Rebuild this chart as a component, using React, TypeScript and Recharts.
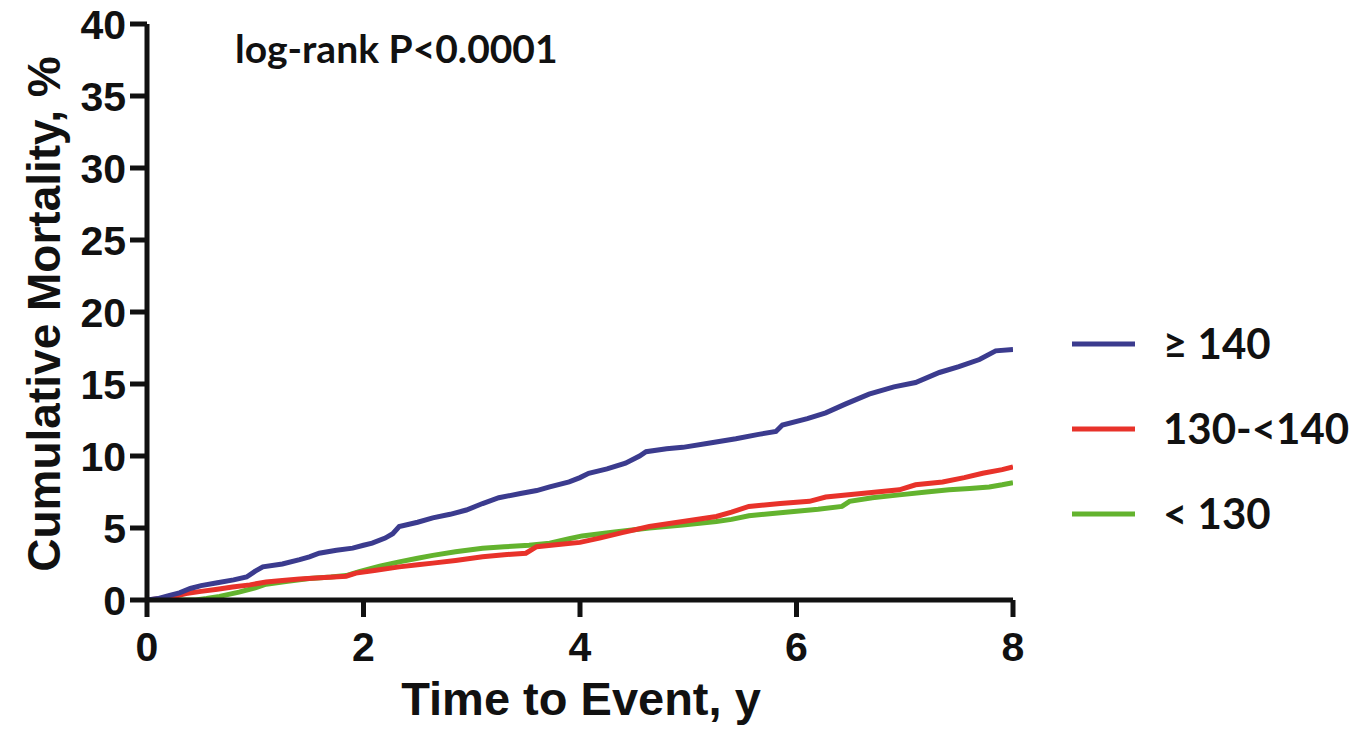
import React from "react";
import { LineChart, Line, XAxis, YAxis, Customized } from "recharts";

const xTicks = [0, 2, 4, 6, 8];
const yTicks = [0, 5, 10, 15, 20, 25, 30, 35, 40];

const seriesNames = ["≥ 140", "130-<140", "< 130"];
const seriesColors = ["#3b3b8e", "#e8322a", "#63b32e"];

const high = [
  [0, 0], [0.1, 0.1], [0.2, 0.3], [0.3, 0.5], [0.4, 0.8], [0.5, 1.0], [0.65, 1.2], [0.8, 1.4],
  [0.92, 1.6], [1.0, 2.0], [1.07, 2.3], [1.25, 2.5], [1.41, 2.8], [1.5, 3.0], [1.59, 3.25],
  [1.75, 3.45], [1.9, 3.6], [2.0, 3.8], [2.08, 3.95], [2.2, 4.3], [2.27, 4.6], [2.33, 5.1],
  [2.5, 5.4], [2.64, 5.7], [2.8, 5.95], [2.95, 6.25], [3.1, 6.7], [3.25, 7.1], [3.45, 7.4],
  [3.6, 7.6], [3.72, 7.85], [3.9, 8.2], [4.0, 8.5], [4.08, 8.8], [4.25, 9.1], [4.42, 9.5],
  [4.55, 10.0], [4.61, 10.3], [4.8, 10.5], [4.95, 10.6], [5.2, 10.9], [5.44, 11.2], [5.65, 11.5],
  [5.81, 11.7], [5.87, 12.15], [6.1, 12.6], [6.27, 13.0], [6.45, 13.6], [6.67, 14.3], [6.9, 14.8],
  [7.1, 15.1], [7.32, 15.8], [7.5, 16.2], [7.69, 16.7], [7.84, 17.3], [8.0, 17.4],
];

const mid = [
  [0, 0], [0.2, 0.15], [0.36, 0.45], [0.5, 0.6], [0.65, 0.75], [0.79, 0.9], [0.95, 1.05],
  [1.1, 1.25], [1.25, 1.35], [1.41, 1.46], [1.6, 1.55], [1.84, 1.65], [1.93, 1.87], [2.1, 2.05],
  [2.33, 2.3], [2.5, 2.45], [2.64, 2.56], [2.85, 2.75], [3.1, 3.0], [3.3, 3.15], [3.5, 3.25],
  [3.6, 3.7], [3.8, 3.85], [4.0, 4.0], [4.18, 4.3], [4.4, 4.7], [4.64, 5.1], [4.95, 5.45],
  [5.26, 5.8], [5.4, 6.1], [5.56, 6.5], [5.85, 6.7], [6.12, 6.85], [6.27, 7.15], [6.6, 7.4],
  [6.95, 7.65], [7.1, 8.0], [7.35, 8.2], [7.55, 8.5], [7.72, 8.8], [7.9, 9.05], [8.0, 9.25],
];

const low = [
  [0, 0], [0.45, 0.0], [0.55, 0.1], [0.67, 0.25], [0.85, 0.55], [1.0, 0.85], [1.1, 1.1],
  [1.3, 1.3], [1.5, 1.5], [1.7, 1.6], [1.84, 1.7], [1.96, 1.97], [2.15, 2.35], [2.33, 2.65],
  [2.5, 2.9], [2.64, 3.1], [2.85, 3.35], [3.1, 3.6], [3.3, 3.7], [3.53, 3.8], [3.72, 3.95],
  [3.9, 4.25], [4.02, 4.45], [4.3, 4.7], [4.64, 5.0], [4.95, 5.2], [5.26, 5.45], [5.4, 5.6],
  [5.56, 5.85], [5.9, 6.1], [6.2, 6.3], [6.42, 6.5], [6.49, 6.85], [6.7, 7.1], [6.95, 7.3],
  [7.2, 7.5], [7.41, 7.65], [7.6, 7.75], [7.78, 7.85], [7.9, 8.0], [8.0, 8.15],
];

const toRows = (arr: number[][]) => arr.map(([t, v]) => ({ t, v }));

const axisFont = "'Liberation Sans', Arial, sans-serif";
const textFont = "Lato, 'Open Sans', sans-serif";

const Annotations = () => (
  <g>
    <text x={235} y={63} fontFamily={textFont} fontWeight={700} fontSize={39} fill="#111">
      log-rank P&lt;0.0001
    </text>
    <text
      x={581}
      y={715}
      textAnchor="middle"
      fontFamily={axisFont}
      fontWeight={700}
      fontSize={47}
      fill="#111"
    >
      Time to Event, y
    </text>
    <text
      x={60}
      y={314}
      textAnchor="middle"
      transform="rotate(-90, 60, 314)"
      fontFamily={axisFont}
      fontWeight={700}
      fontSize={46}
      fill="#111"
    >
      Cumulative Mortality, %
    </text>
    <g transform="translate(1068, 308)">
      {seriesNames.map((name, i) => {
        const cy = 36 + i * 85;
        return (
          <g key={name}>
            <line x1={4} x2={67} y1={cy} y2={cy} stroke={seriesColors[i]} strokeWidth={5} />
            <text
              x={95}
              y={cy}
              dy="0.36em"
              fontFamily={textFont}
              fontWeight={700}
              fontSize={42}
              fill="#111"
            >
              {name}
            </text>
          </g>
        );
      })}
    </g>
  </g>
);

export default function App() {
  const tickStyle = { fontFamily: axisFont, fontWeight: 700, fontSize: 41, fill: "#111" };
  const lineType = "linear" as const;
  return (
    <div style={{ margin: -8, width: 1372, height: 740 }}>
      <LineChart
        width={1372}
        height={740}
        margin={{ top: 24, right: 359, left: 47, bottom: 80 }}
      >
        <XAxis
          type="number"
          dataKey="t"
          domain={[0, 8]}
          ticks={xTicks}
          interval={0}
          allowDataOverflow
          axisLine={{ stroke: "#111", strokeWidth: 5 }}
          tickLine={{ stroke: "#111", strokeWidth: 5 }}
          tickSize={17}
          tickMargin={15}
          tick={tickStyle}
          height={60}
        />
        <YAxis
          type="number"
          domain={[0, 40]}
          ticks={yTicks}
          interval={0}
          allowDataOverflow
          axisLine={{ stroke: "#111", strokeWidth: 5 }}
          tickLine={{ stroke: "#111", strokeWidth: 5 }}
          tickSize={17}
          tickMargin={4}
          tick={tickStyle}
          width={100}
        />
        <Line
          data={toRows(low)}
          dataKey="v"
          type={lineType}
          stroke={seriesColors[2]}
          strokeWidth={5}
          dot={false}
          isAnimationActive={false}
          name={seriesNames[2]}
        />
        <Line
          data={toRows(mid)}
          dataKey="v"
          type={lineType}
          stroke={seriesColors[1]}
          strokeWidth={5}
          dot={false}
          isAnimationActive={false}
          name={seriesNames[1]}
        />
        <Line
          data={toRows(high)}
          dataKey="v"
          type={lineType}
          stroke={seriesColors[0]}
          strokeWidth={5}
          dot={false}
          isAnimationActive={false}
          name={seriesNames[0]}
        />
        <Customized component={Annotations} />
      </LineChart>
    </div>
  );
}
